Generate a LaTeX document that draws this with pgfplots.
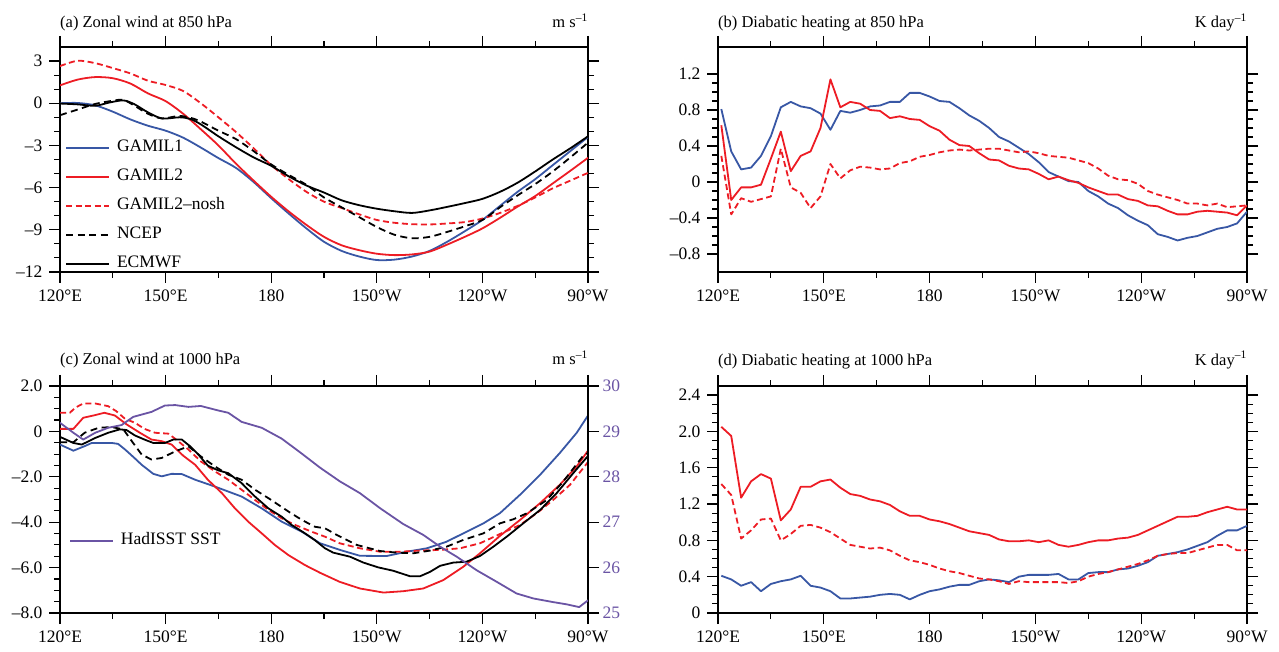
\documentclass[border=0pt]{standalone}
\usepackage{fontspec}
\setmainfont{Liberation Serif}
\usepackage{pgfplots}
\usepackage{pgfplotstable}
\pgfplotsset{compat=1.18}
\definecolor{gblue}{RGB}{56,87,165}
\definecolor{gred}{RGB}{237,28,36}
\definecolor{gpurple}{RGB}{106,84,164}
\newcommand{\fs}{\fontsize{16.5}{19}\selectfont}
\newcommand{\ft}{\fontsize{17.5}{20}\selectfont}

\pgfplotstableread{
lon g1 g2 nosh
120.94 0.81 0.63 0.29
123.75 0.34 -0.20 -0.36
126.56 0.14 -0.06 -0.18
129.38 0.16 -0.06 -0.22
132.19 0.29 -0.03 -0.19
135.00 0.51 0.26 -0.16
137.81 0.83 0.56 0.37
140.63 0.89 0.12 -0.06
143.44 0.84 0.29 -0.12
146.25 0.82 0.34 -0.29
149.06 0.76 0.60 -0.16
151.88 0.58 1.14 0.20
154.69 0.79 0.83 0.04
157.50 0.77 0.89 0.13
160.31 0.80 0.87 0.17
163.13 0.84 0.80 0.16
165.94 0.85 0.79 0.14
168.75 0.89 0.71 0.15
171.56 0.89 0.73 0.21
174.38 0.99 0.70 0.23
177.19 0.99 0.69 0.28
180.00 0.95 0.62 0.30
182.81 0.90 0.57 0.33
185.63 0.89 0.47 0.35
188.44 0.82 0.41 0.36
191.25 0.74 0.40 0.35
194.06 0.68 0.32 0.36
196.88 0.60 0.25 0.37
199.69 0.50 0.24 0.37
202.50 0.45 0.18 0.35
205.31 0.38 0.15 0.33
208.13 0.31 0.14 0.34
210.94 0.22 0.09 0.32
213.75 0.11 0.03 0.29
216.56 0.06 0.06 0.28
219.38 0.01 0.02 0.27
222.19 0.00 -0.01 0.24
225.00 -0.10 -0.06 0.21
227.81 -0.16 -0.10 0.15
230.63 -0.24 -0.14 0.07
233.44 -0.29 -0.14 0.03
236.25 -0.37 -0.19 0.02
239.06 -0.43 -0.21 -0.02
241.88 -0.48 -0.26 -0.10
244.69 -0.58 -0.27 -0.14
247.50 -0.61 -0.32 -0.17
250.31 -0.65 -0.36 -0.20
253.13 -0.62 -0.36 -0.24
255.94 -0.60 -0.33 -0.24
258.75 -0.56 -0.32 -0.26
261.56 -0.52 -0.33 -0.24
264.38 -0.50 -0.34 -0.28
267.19 -0.46 -0.37 -0.27
270.00 -0.33 -0.26 -0.26
}\tabb

\pgfplotstableread{
lon g1 g2 nosh
120.94 0.41 2.05 1.42
123.75 0.37 1.95 1.30
126.56 0.30 1.27 0.82
129.38 0.34 1.45 0.91
132.19 0.24 1.53 1.03
135.00 0.32 1.48 1.04
137.81 0.35 1.02 0.80
140.63 0.37 1.14 0.87
143.44 0.41 1.39 0.96
146.25 0.30 1.39 0.97
149.06 0.28 1.45 0.94
151.88 0.24 1.47 0.89
154.69 0.16 1.38 0.82
157.50 0.16 1.31 0.75
160.31 0.17 1.29 0.73
163.13 0.18 1.25 0.71
165.94 0.20 1.23 0.72
168.75 0.21 1.19 0.69
171.56 0.20 1.12 0.63
174.38 0.15 1.07 0.58
177.19 0.20 1.07 0.56
180.00 0.24 1.03 0.53
182.81 0.26 1.01 0.49
185.63 0.29 0.98 0.46
188.44 0.31 0.94 0.44
191.25 0.31 0.90 0.41
194.06 0.35 0.88 0.38
196.88 0.37 0.86 0.37
199.69 0.36 0.81 0.35
202.50 0.34 0.79 0.32
205.31 0.40 0.79 0.35
208.13 0.42 0.80 0.34
210.94 0.42 0.78 0.34
213.75 0.42 0.80 0.34
216.56 0.43 0.75 0.34
219.38 0.37 0.73 0.33
222.19 0.37 0.75 0.35
225.00 0.44 0.78 0.40
227.81 0.45 0.80 0.43
230.63 0.45 0.80 0.45
233.44 0.48 0.82 0.48
236.25 0.49 0.83 0.51
239.06 0.52 0.86 0.54
241.88 0.56 0.91 0.58
244.69 0.63 0.96 0.63
247.50 0.65 1.01 0.65
250.31 0.67 1.06 0.66
253.13 0.70 1.06 0.66
255.94 0.74 1.07 0.69
258.75 0.78 1.11 0.72
261.56 0.85 1.14 0.75
264.38 0.91 1.17 0.75
267.19 0.91 1.14 0.69
270.00 0.96 1.14 0.69
}\tabd

\pgfplotsset{
  panel/.style={
    scale only axis, anchor=south west,
    xmin=120, xmax=270,
    xtick={120,150,180,210,240,270},
    xticklabels={120°E,150°E,180,150°W,120°W,90°W},
    minor x tick num=1,
    tick align=outside,
    major tick length=11pt, minor tick length=6pt,
    major tick style={black, line width=1.3pt},
    minor tick style={black, line width=1.1pt},
    axis line style={line width=1.6pt},
    tick label style={font=\ft},
    xticklabel style={yshift=-3pt},
    yticklabel style={xshift=-3pt},
    /pgf/number format/assume math mode=true,
    clip mode=individual,
    every axis plot/.append style={line width=1.8pt, line join=round},
    legend cell align=left,
    legend image code/.code={\draw[##1] (0pt,0pt) -- (43pt,0pt);},
    legend style={draw=none, fill=none, inner sep=0pt, row sep=13pt, column sep=7pt,
      nodes={inner sep=0pt, text height=12pt, text depth=4pt, font=\ft}},
  },
  sblue/.style={color=gblue, solid},
  sred/.style={color=gred, solid},
  snosh/.style={color=gred, dash pattern=on 6pt off 3.5pt},
  sncep/.style={color=black, dash pattern=on 7pt off 4.5pt},
  secm/.style={color=black, solid},
}

\begin{document}
\begin{tikzpicture}
\path[use as bounding box] (0pt,0pt) rectangle (1279pt,651pt);

% ---------------- (a)
\begin{axis}[panel, at={(60pt,379pt)}, width=528pt, height=225pt,
  ymin=-12, ymax=4, ytick={-12,-9,-6,-3,0,3},
  yticklabels={–12,–9,–6,–3,0,3}, minor y tick num=2,
  legend style={at={(rel axis cs:0.0095,0)}, anchor=south west}]
\addplot[sblue, smooth, tension=0.5] coordinates {(120,0.0) (125,0.02) (130,-0.15) (135,-0.6) (140,-1.15) (145,-1.6) (150,-1.95) (155,-2.45) (160,-3.15) (165,-3.9) (170,-4.6) (175,-5.6) (180,-6.75) (185,-7.85) (190,-8.9) (195,-9.85) (200,-10.5) (205,-10.9) (210,-11.15) (215,-11.12) (220,-10.9) (225,-10.5) (230,-9.85) (235,-9.1) (240,-8.3) (245,-7.3) (250,-6.3) (255,-5.4) (260,-4.4) (265,-3.4) (270,-2.4)};
\addlegendentry{GAMIL1}
\addplot[sred, smooth, tension=0.5] coordinates {(120,1.27) (125,1.68) (130,1.86) (135,1.78) (140,1.4) (145,0.7) (150,0.15) (155,-0.75) (160,-1.85) (165,-3.0) (170,-4.3) (175,-5.5) (180,-6.65) (185,-7.7) (190,-8.65) (195,-9.5) (200,-10.1) (205,-10.45) (210,-10.7) (215,-10.8) (220,-10.75) (225,-10.55) (230,-10.05) (235,-9.5) (240,-8.9) (245,-8.15) (250,-7.35) (255,-6.6) (260,-5.7) (265,-4.8) (270,-3.88)};
\addlegendentry{GAMIL2}
\addplot[snosh, smooth, tension=0.5] coordinates {(120,2.64) (125,3.02) (130,2.85) (135,2.5) (140,2.12) (145,1.6) (150,1.3) (155,0.87) (160,0.0) (165,-1.0) (170,-2.05) (175,-3.2) (180,-4.4) (185,-5.4) (190,-6.3) (195,-7.0) (200,-7.45) (205,-7.9) (210,-8.3) (215,-8.5) (220,-8.6) (225,-8.62) (230,-8.55) (235,-8.45) (240,-8.2) (245,-7.8) (250,-7.3) (255,-6.7) (260,-6.05) (265,-5.5) (270,-4.95)};
\addlegendentry{GAMIL2–nosh}
\addplot[sncep, smooth, tension=0.5] coordinates {(120,-0.85) (125,-0.45) (130,-0.05) (135,0.18) (138,0.24) (141,-0.15) (145,-0.75) (149,-1.08) (154,-0.9) (158,-1.1) (160,-1.3) (165,-1.95) (170,-2.55) (175,-3.4) (180,-4.35) (185,-5.1) (190,-5.8) (195,-6.7) (200,-7.4) (205,-8.1) (210,-8.8) (215,-9.35) (220,-9.6) (225,-9.5) (230,-9.15) (235,-8.75) (240,-8.3) (245,-7.4) (250,-6.55) (255,-5.75) (260,-4.85) (265,-3.85) (270,-2.8)};
\addlegendentry{NCEP}
\addplot[secm, smooth, tension=0.5] coordinates {(120,-0.02) (125,-0.08) (130,-0.18) (134,0.05) (138,0.2) (141,-0.05) (145,-0.65) (149,-1.08) (154,-1.0) (157,-1.12) (160,-1.5) (165,-2.35) (170,-3.13) (175,-3.85) (180,-4.45) (185,-5.2) (190,-5.85) (195,-6.35) (200,-6.9) (205,-7.25) (210,-7.5) (215,-7.68) (220,-7.8) (225,-7.62) (230,-7.37) (235,-7.1) (240,-6.8) (245,-6.3) (250,-5.65) (255,-4.85) (260,-4.0) (265,-3.2) (270,-2.35)};
\addlegendentry{ECMWF}
\node[anchor=base west, font=\fs, inner sep=0pt] at ([yshift=19pt]rel axis cs:0,1) {(a) Zonal wind at 850 hPa};
\node[anchor=base east, font=\fs, inner sep=0pt] at ([yshift=19pt]rel axis cs:1,1) {m s\textsuperscript{–1}};
\end{axis}

% ---------------- (b)
\begin{axis}[panel, at={(718pt,379pt)}, width=529pt, height=225pt,
  ymin=-1.0, ymax=1.5, ytick={-0.8,-0.4,0,0.4,0.8,1.2},
  yticklabels={–0.8,–0.4,0,0.4,0.8,1.2}, minor y tick num=3]
\addplot[sblue] table[x=lon,y=g1] {\tabb};
\addplot[sred] table[x=lon,y=g2] {\tabb};
\addplot[snosh] table[x=lon,y=nosh] {\tabb};
\node[anchor=base west, font=\fs, inner sep=0pt] at ([yshift=19pt]rel axis cs:0,1) {(b) Diabatic heating at 850 hPa};
\node[anchor=base east, font=\fs, inner sep=0pt] at ([yshift=19pt]rel axis cs:1,1) {K day\textsuperscript{–1}};
\end{axis}

% ---------------- (c)
\begin{axis}[panel, at={(60pt,38pt)}, width=528pt, height=227pt,
  axis y line*=left,
  ymin=-8, ymax=2, ytick={-8,-6,-4,-2,0,2},
  yticklabels={–8.0,–6.0,–4.0,–2.0,0,2.0}, minor y tick num=3]
\addplot[sblue] coordinates {(120,-0.58) (123.8,-0.85) (127,-0.65) (129,-0.51) (134.7,-0.51) (136.5,-0.55) (138.5,-0.8) (141,-1.15) (143.2,-1.47) (146.5,-1.87) (148.9,-1.98) (151.7,-1.87) (154.6,-1.88) (158.4,-2.13) (164,-2.43) (171.6,-2.87) (177.3,-3.39) (183,-3.98) (188.7,-4.42) (193.9,-4.93) (199.5,-5.22) (205.2,-5.48) (212.8,-5.49) (218.5,-5.3) (224.2,-5.15) (229.8,-4.86) (234.6,-4.49) (240.3,-4.05) (245,-3.6) (250.7,-2.79) (256.4,-1.91) (262,-0.95) (266.8,-0.06) (270,0.7)};
\addplot[sred] coordinates {(120,0.11) (123.8,0.11) (126.6,0.6) (129.5,0.7) (132.6,0.82) (135.6,0.7) (138.9,0.31) (142.7,-0.06) (146,-0.36) (148.9,-0.43) (151.7,-0.58) (155,-1.07) (158.4,-1.47) (162,-2.13) (166,-2.72) (169.7,-3.39) (173.5,-3.98) (177.3,-4.49) (181,-5.0) (184.9,-5.45) (189.6,-5.89) (193.9,-6.23) (199.5,-6.63) (205.2,-6.92) (211.9,-7.1) (217.5,-7.04) (223.2,-6.92) (228.9,-6.55) (234.6,-5.96) (239.3,-5.37) (245,-4.6) (250.7,-3.9) (256.4,-3.16) (262,-2.35) (266.8,-1.54) (270,-0.85)};
\addplot[snosh] coordinates {(120,0.82) (122.8,0.82) (124.3,1.04) (126.6,1.23) (130,1.23) (133.7,1.11) (136,0.89) (138.5,0.55) (141.3,0.38) (144,0.11) (147,-0.06) (150.8,-0.1) (153,-0.36) (156.5,-0.8) (160,-1.32) (164,-1.76) (167.8,-2.13) (171.6,-2.57) (175.4,-3.02) (179.2,-3.46) (183,-3.83) (186.8,-4.12) (191.5,-4.42) (195.3,-4.64) (199.5,-4.93) (205.2,-5.15) (210.9,-5.3) (216.6,-5.3) (222.3,-5.25) (228,-5.22) (233.6,-5.15) (239.3,-4.93) (245,-4.52) (250.7,-4.12) (255.4,-3.61) (260.1,-3.02) (264.9,-2.35) (270,-1.35)};
\addplot[sncep] coordinates {(120,-0.48) (123.8,-0.48) (127,-0.06) (131,0.16) (134.7,0.19) (138,0.09) (140.4,-0.43) (143.2,-1.02) (146,-1.24) (148.9,-1.17) (152.7,-0.88) (156.5,-0.66) (160,-1.1) (164,-1.54) (167.8,-1.91) (171.6,-2.13) (175.4,-2.57) (180,-3.02) (184.9,-3.53) (188.7,-3.9) (192.4,-4.2) (195.3,-4.27) (198.6,-4.56) (204.3,-5.0) (210.9,-5.27) (215.6,-5.34) (220.4,-5.37) (225.1,-5.25) (229.8,-5.08) (234.6,-4.78) (240.3,-4.49) (245,-4.05) (248.8,-3.87) (252.6,-3.61) (258.3,-3.02) (263,-2.2) (266,-1.6) (268.5,-1.1) (270,-0.95)};
\addplot[secm] coordinates {(120,-0.24) (123.8,-0.51) (126.2,-0.58) (130,-0.29) (133.7,-0.06) (137,0.09) (138.9,0.06) (141.3,-0.18) (144,-0.36) (146.5,-0.51) (149.8,-0.51) (152.2,-0.36) (154.6,-0.36) (157,-0.66) (159.3,-1.02) (162,-1.51) (165,-1.72) (167.8,-1.84) (171.6,-2.28) (175.4,-2.87) (179.2,-3.39) (183,-3.76) (185.8,-4.12) (189.6,-4.49) (192.4,-4.79) (195.3,-5.15) (197.6,-5.34) (202.4,-5.52) (206.2,-5.78) (210.4,-5.99) (214.7,-6.14) (219.4,-6.38) (222.3,-6.38) (225.1,-6.19) (228,-5.92) (231.7,-5.78) (235.5,-5.74) (239.3,-5.49) (243.1,-5.08) (246.9,-4.64) (251.6,-4.05) (256.4,-3.46) (261.1,-2.72) (265.8,-1.84) (270,-1.08)};
\node[anchor=base west, font=\fs, inner sep=0pt] at ([yshift=21pt]rel axis cs:0,1) {(c) Zonal wind at 1000 hPa};
\node[anchor=base east, font=\fs, inner sep=0pt] at ([yshift=21pt]rel axis cs:1,1) {m s\textsuperscript{–1}};
\end{axis}
\begin{axis}[panel, at={(60pt,38pt)}, width=528pt, height=227pt,
  axis y line*=right, axis x line=none,
  ymin=25, ymax=30, ytick={25,26,27,28,29,30}, minor y tick num=0,
  yticklabel style={color=gpurple, xshift=3pt},
  legend style={at={(rel axis cs:0.017,0.3185)}, anchor=west}]
\addplot[color=gpurple, solid] coordinates {(120,29.19) (123.8,28.97) (126.6,28.82) (130,28.97) (133.7,29.08) (137.5,29.14) (140.8,29.32) (146,29.43) (149.8,29.57) (152.7,29.58) (156.5,29.54) (160,29.56) (165,29.46) (167.8,29.41) (171.6,29.21) (177.3,29.08) (183,28.84) (188.7,28.51) (193.9,28.2) (199.5,27.9) (205.2,27.64) (210.9,27.31) (217.5,26.96) (223.2,26.72) (228,26.46) (232.7,26.24) (238.4,25.94) (244,25.69) (249.7,25.43) (254.5,25.32) (260.1,25.24) (264,25.19) (267.5,25.13) (270,25.28)};
\addlegendentry{HadISST SST}
\end{axis}

% ---------------- (d)
\begin{axis}[panel, at={(718pt,38pt)}, width=529pt, height=227pt,
  ymin=0, ymax=2.5, ytick={0,0.4,0.8,1.2,1.6,2.0,2.4},
  yticklabels={0,0.4,0.8,1.2,1.6,2.0,2.4}, minor y tick num=3]
\addplot[sblue] table[x=lon,y=g1] {\tabd};
\addplot[sred] table[x=lon,y=g2] {\tabd};
\addplot[snosh] table[x=lon,y=nosh] {\tabd};
\node[anchor=base west, font=\fs, inner sep=0pt] at ([yshift=21pt]rel axis cs:0,1) {(d) Diabatic heating at 1000 hPa};
\node[anchor=base east, font=\fs, inner sep=0pt] at ([yshift=21pt]rel axis cs:1,1) {K day\textsuperscript{–1}};
\end{axis}
\end{tikzpicture}
\end{document}
